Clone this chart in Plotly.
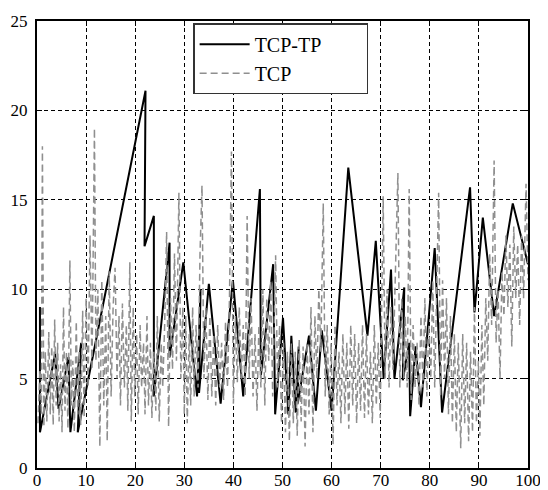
import plotly.graph_objects as go

# TCP-TP (solid black)
tcptp_x = [0.6, 0.6, 3.7, 4.4, 6.4, 6.8, 9.0, 8.3, 22.1, 21.9, 23.8, 23.8, 27.0, 27.0,
           29.8, 32.6, 33.3, 33.0, 35.0, 37.4, 39.9, 42.0, 45.4, 45.6, 48.1, 48.5, 50.1,
           51.2, 51.8, 52.7, 53.3, 53.1, 55.4, 56.8, 58.0, 60.0, 63.4, 67.3, 69.0, 70.6,
           72.1, 72.8, 74.8, 74.5, 75.8, 76.0, 77.1, 78.2, 81.0, 82.5, 88.2, 89.1, 90.8,
           93.1, 96.9, 100.0]
tcptp_y = [9.0, 2.0, 6.4, 3.3, 6.2, 2.0, 7.0, 2.0, 21.1, 12.4, 14.1, 4.0, 12.6, 6.2,
           11.5, 4.0, 10.0, 4.2, 10.3, 3.6, 10.5, 4.0, 15.6, 5.2, 11.4, 3.0, 8.4,
           3.0, 7.4, 3.1, 6.8, 3.6, 7.4, 3.2, 7.7, 3.2, 16.8, 7.4, 12.7, 5.0,
           11.1, 5.0, 10.1, 4.9, 7.0, 2.9, 6.8, 3.4, 12.3, 3.1, 15.7, 8.7, 14.0,
           8.5, 14.8, 11.4]

# TCP (dashed grey)
tcp_x = [0.2, 0.6, 0.9, 1.1, 1.4, 1.7, 2.0, 2.4, 2.7, 3.0, 3.3, 3.6, 3.9, 4.2, 4.5, 4.8,
         5.1, 5.4, 5.7, 6.0, 6.3, 6.7, 7.0, 7.3, 7.6, 8.0, 8.3, 8.6, 8.9, 9.3, 9.6, 10.0,
         10.4, 10.8, 11.2, 11.7, 12.0, 12.4, 12.8, 13.2, 13.6, 14.0, 14.3, 14.7, 15.1, 15.5,
         15.9, 16.3, 16.7, 17.0, 17.4, 17.8, 18.2, 18.5, 18.9, 19.2, 19.6, 19.9, 20.3, 20.6,
         21.0, 21.3, 21.7, 22.0, 22.4, 22.7, 23.1, 23.4, 23.8, 24.2, 24.5, 24.9, 25.3, 25.6,
         26.0, 26.4, 26.8, 27.2, 27.6, 28.0, 28.4, 28.9, 29.3, 29.7, 30.0, 30.3, 30.6, 31.0,
         31.3, 31.7, 32.0, 32.4, 32.8, 33.2, 33.6, 34.0, 34.4, 34.8, 35.2, 35.6, 36.0, 36.4,
         36.8, 37.2, 37.6, 38.0, 38.4, 38.8, 39.2, 39.6, 40.0, 40.4, 40.8, 41.2, 41.6, 42.0,
         42.4, 42.8, 43.2, 43.6, 44.0, 44.4, 44.8, 45.2, 45.6, 46.0, 46.4, 46.8, 47.2, 47.6,
         48.0, 48.6, 49.0, 49.4, 49.8, 50.2, 50.6, 51.0, 51.4, 51.8, 52.2, 52.6, 53.0, 53.4,
         53.8, 54.2, 54.6, 55.0, 55.4, 55.8, 56.2, 56.6, 57.0, 57.4, 57.8, 58.3, 58.7, 59.1,
         59.5, 59.9, 60.3, 60.7, 61.1, 61.5, 61.9, 62.3, 62.7, 63.1, 63.5, 63.9, 64.3, 64.7,
         65.1, 65.5, 65.9, 66.3, 66.7, 67.1, 67.5, 67.9, 68.3, 68.7, 69.1, 69.5, 69.9, 70.5,
         70.9, 71.3, 71.7, 72.1, 72.5, 73.0, 73.5, 73.9, 74.3, 74.7, 75.0, 75.4, 75.8, 76.2,
         76.6, 77.0, 77.4, 77.8, 78.2, 78.6, 79.0, 79.4, 79.8, 80.2, 80.6, 81.0, 81.8, 82.2,
         82.6, 83.0, 83.4, 83.8, 84.2, 84.6, 85.0, 85.4, 85.8, 86.3, 86.7, 87.1, 87.5, 87.9,
         88.3, 88.7, 89.1, 89.5, 89.9, 90.2, 90.6, 91.0, 91.4, 91.8, 92.2, 92.6, 93.1, 93.5,
         93.9, 94.3, 94.7, 95.1, 95.5, 95.9, 96.3, 96.7, 97.1, 97.5, 97.9, 98.3, 98.7, 99.1,
         99.6, 100.0]
tcp_y = [2.5, 5.5, 3.0, 18.0, 2.3, 6.5, 2.6, 7.6, 3.0, 6.8, 2.4, 8.3, 3.5, 7.0, 2.6, 5.8,
         2.0, 9.0, 3.2, 6.5, 2.2, 11.6, 3.5, 6.0, 2.0, 8.2, 3.0, 6.5, 2.4, 8.8, 2.8, 9.5,
         4.5, 13.0, 5.5, 19.0, 6.0, 10.0, 1.2, 10.5, 3.5, 8.5, 1.5, 11.0, 4.0, 9.0,
         11.2, 5.0, 8.5, 3.5, 9.2, 4.5, 8.0, 3.2, 11.5, 2.6, 9.0, 4.0, 7.5, 3.0,
         8.0, 4.5, 7.0, 3.0, 8.5, 3.5, 7.0, 2.8, 6.5, 3.2, 8.5, 2.6, 7.0, 4.5,
         8.0, 13.2, 2.3, 9.5, 5.5, 12.0, 6.0, 15.4, 5.0, 9.0, 3.0, 8.5, 2.5, 7.5,
         3.5, 9.0, 4.0, 8.0, 4.5, 12.0, 15.8, 5.0, 9.0, 3.8, 8.5, 4.0, 7.5, 3.5,
         8.0, 4.5, 7.0, 3.8, 8.2, 4.5, 9.5, 17.7, 3.6, 8.5, 4.8, 9.0, 5.0, 8.0,
         4.0, 14.1, 5.0, 9.5, 4.0, 7.5, 3.2, 8.0, 4.5, 10.0, 3.5, 9.5, 6.0, 10.5,
         4.0, 11.9, 4.5, 8.0, 2.5, 7.0, 2.0, 6.5, 1.5, 7.0, 2.5, 6.5, 1.8, 7.2,
         2.6, 6.8, 1.2, 7.0, 3.0, 9.0, 2.0, 8.5, 5.0, 10.0, 6.5, 14.8, 4.0, 8.0,
         3.0, 7.0, 1.3, 8.0, 3.5, 6.5, 2.5, 7.5, 3.0, 7.0, 2.2, 8.0, 3.5, 7.5,
         2.5, 7.0, 3.2, 8.0, 2.8, 7.5, 3.0, 6.5, 2.5, 8.0, 3.5, 7.0, 2.8, 15.2,
         5.0, 10.0, 4.5, 9.0, 5.5, 11.0, 16.5, 4.5, 9.5, 5.0, 8.5, 4.5, 15.6, 3.8,
         8.0, 4.5, 7.0, 3.5, 8.5, 4.5, 9.5, 4.0, 8.0, 5.0, 10.5, 4.5, 15.4, 4.0,
         10.5, 5.0, 9.5, 3.0, 8.5, 2.5, 7.5, 2.0, 7.0, 1.1, 7.5, 2.5, 7.0, 1.5,
         6.5, 2.0, 9.0, 2.5, 6.0, 1.8, 8.0, 3.5, 9.5, 6.0, 12.0, 8.0, 17.2, 7.0,
         10.0, 5.0, 11.0, 8.5, 13.0, 9.0, 12.5, 6.8, 13.5, 9.5, 12.5, 8.0, 13.0, 9.5,
         15.9, 10.5]

x_ticks = [0, 10, 20, 30, 40, 50, 60, 70, 80, 90, 100]
y_ticks = [0, 5, 10, 15, 20, 25]

serif = "Liberation Serif"
pad = "\u00a0" * 8  # widen legend box to the reference size

fig = go.Figure()

fig.add_trace(go.Scatter(
    x=tcptp_x, y=tcptp_y, mode="lines", name="TCP-TP" + pad,
    line=dict(color="black", width=2)
))
fig.add_trace(go.Scatter(
    x=tcp_x, y=tcp_y, mode="lines", name="TCP",
    line=dict(color="#8f8f8f", width=1.5, dash="7px,4px")
))

axis_style = dict(
    showline=True, linecolor="black", linewidth=2, mirror="ticks",
    ticks="inside", ticklen=5, tickcolor="black",
    showgrid=True, gridcolor="black", gridwidth=1, griddash="4px,3px",
    zeroline=False, automargin=False,
    tickfont=dict(family=serif, size=17, color="black"),
)

fig.update_xaxes(range=[0, 100], tickvals=x_ticks, ticklabelstandoff=-4, **axis_style)
fig.update_yaxes(range=[0, 25], tickvals=y_ticks, ticklabelstandoff=4, **axis_style)

# page body adds an 8px offset, so the figure is sized to fit the window
fig.update_layout(
    width=540, height=482,
    margin=dict(l=29, r=20, t=13, b=22),
    plot_bgcolor="white", paper_bgcolor="white",
    font=dict(family=serif, color="black"),
    legend=dict(
        x=0.318, y=0.995, xanchor="left", yanchor="top",
        bgcolor="white", bordercolor="#333333", borderwidth=1.5,
        font=dict(family=serif, size=20, color="black"),
        itemwidth=50, tracegroupgap=0,
    ),
    showlegend=True,
)

fig.write_html("out.html")
